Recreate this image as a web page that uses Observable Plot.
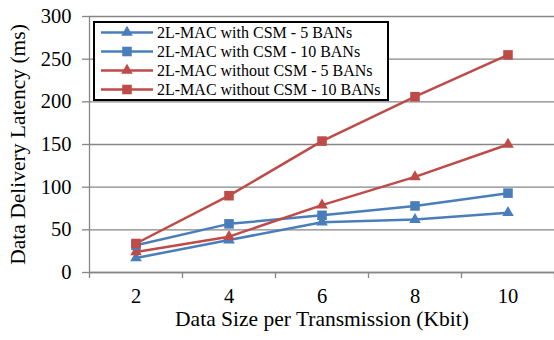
<!DOCTYPE html>
<html><head><meta charset="utf-8">
<script src="https://cdn.jsdelivr.net/npm/d3@7"></script>
<script src="https://cdn.jsdelivr.net/npm/@observablehq/plot@0.6"></script>
<style>
body{margin:0;background:#fff;font-family:'Liberation Serif','Times New Roman',serif;}
#wrap{position:relative;width:554px;height:340px;}
#chart svg, #chart svg text{font-family:'Liberation Serif','Times New Roman',serif !important;}
#legend{position:absolute;left:93px;top:21px;width:292px;height:76px;border:2px solid #000;background:#fff;}
.row{display:flex;align-items:center;height:19px;}
.row svg{margin-left:6px;flex:none;}
.row span{margin-left:4px;font-size:16px;white-space:nowrap;color:#000;}
</style></head>
<body>
<div id="wrap"><div id="chart"></div><div id="legend"></div></div>
<script>
const sizes = [2, 4, 6, 8, 10];
const withCSM5 = [17, 38, 59, 62, 70];
const withCSM10 = [32, 57, 67, 78, 93];
const withoutCSM5 = [24, 42, 79, 112, 150];
const withoutCSM10 = [34, 90, 154, 206, 255];
const seriesNames = ["2L-MAC with CSM - 5 BANs", "2L-MAC with CSM - 10 BANs", "2L-MAC without CSM - 5 BANs", "2L-MAC without CSM - 10 BANs"];
const seriesColors = ["#4a7ebb", "#4a7ebb", "#be4b48", "#be4b48"];
const seriesSymbols = ["triangle", "square", "triangle", "square"];
const yTicks = [0, 50, 100, 150, 200, 250, 300];
const xBounds = [1, 3, 5, 7, 9, 11];

const allValues = [withCSM5, withCSM10, withoutCSM5, withoutCSM10];
const data = [];
allValues.forEach((vals, s) => vals.forEach((v, i) => data.push({series: seriesNames[s], x: sizes[i], y: v, sym: seriesSymbols[s]})));

const font = "'Liberation Serif','Times New Roman',serif";
const chart = Plot.plot({
  width: 554, height: 340,
  marginLeft: 89, marginRight: 0, marginTop: 16, marginBottom: 68,
  style: "font-family: 'Liberation Serif','Times New Roman',serif; background: white; overflow: visible;",
  x: {domain: [1, 11]},
  y: {domain: [0, 300]},
  color: {domain: seriesNames, range: seriesColors},
  symbol: {domain: seriesNames, range: seriesSymbols},
  marks: [
    Plot.gridY(yTicks, {stroke: "#868686", strokeOpacity: 1, strokeWidth: 1.3}),
    Plot.ruleX([1], {stroke: "#868686", strokeWidth: 1.3}),
    Plot.ruleY([0], {stroke: "#868686", strokeWidth: 1.3}),
    Plot.axisY(yTicks, {tickSize: 7, tickPadding: 11, stroke: "#868686", strokeWidth: 1.3, fill: "#000", fontSize: 20.5, fontFamily: font, label: null, tickFormat: d => String(d)}),
    Plot.axisX(xBounds, {tickSize: 6, stroke: "#868686", strokeWidth: 1.3, tickFormat: () => "", label: null}),
    Plot.axisX(sizes, {tickSize: 0, tickPadding: 16, fill: "#000", fontSize: 20.5, fontFamily: font, label: null, tickFormat: d => String(d)}),
    Plot.text(["Data Size per Transmission (Kbit)"], {frameAnchor: "bottom", dy: 53, fontSize: 21.5, fontFamily: font, fill: "#000"}),
    Plot.text(["Data Delivery Latency (ms)"], {frameAnchor: "left", textAnchor: "middle", rotate: -90, dx: -71, fontSize: 21.5, fontFamily: font, fill: "#000"}),
    Plot.line(data, {x: "x", y: "y", z: "series", stroke: "series", strokeWidth: 2.5}),
    Plot.dot(data.filter(d => d.sym === "triangle"), {x: "x", y: "y", symbol: "series", fill: "series", r: 4.3}),
    Plot.dot(data.filter(d => d.sym === "square"), {x: "x", y: "y", symbol: "series", fill: "series", r: 5.4})
  ]
});
document.getElementById("chart").appendChild(chart);

const legend = d3.select("#legend");
seriesNames.forEach((name, i) => {
  const row = legend.append("div").attr("class", "row");
  const svg = row.append("svg").attr("width", 52).attr("height", 19);
  svg.append("line").attr("x1", 0).attr("x2", 52).attr("y1", 9.5).attr("y2", 9.5)
    .attr("stroke", seriesColors[i]).attr("stroke-width", 2.5);
  const r = seriesSymbols[i] === "square" ? 5.4 : 4.3;
  const sym = seriesSymbols[i] === "square" ? d3.symbolSquare : d3.symbolTriangle;
  svg.append("path").attr("transform", "translate(26,9.5)")
    .attr("d", d3.symbol(sym, Math.PI * r * r)()).attr("fill", seriesColors[i]);
  row.append("span").text(name);
});
</script>
</body></html>
